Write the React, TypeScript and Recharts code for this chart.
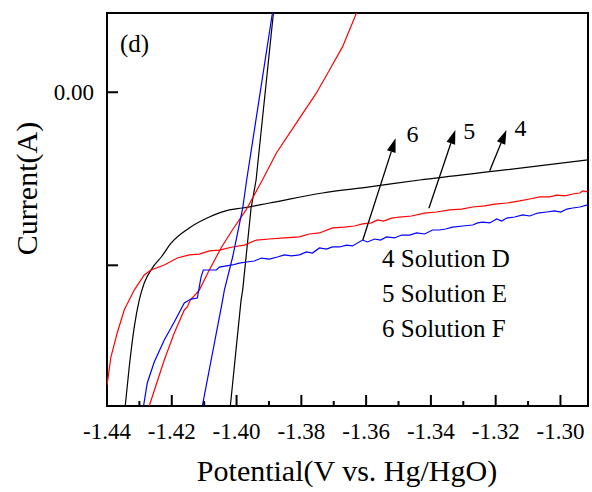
import React from "react";
import { LineChart, Line, XAxis, YAxis, ReferenceLine, ReferenceArea } from "recharts";

// ---- axes ----
const xTicks = [-1.44, -1.43, -1.42, -1.41, -1.4, -1.39, -1.38, -1.37, -1.36, -1.35, -1.34, -1.33, -1.32, -1.31, -1.3];
const yTicks = [-0.01, 0];
const xDomain = [-1.44, -1.2915];
const yDomain = [-0.01813, 0.00458];

// ---- curve 4 (Solution D, black) ----
const c4Forward = [
  { x: -1.43437, y: -0.01813 }, { x: -1.43314, y: -0.01588 }, { x: -1.43159, y: -0.01357 },
  { x: -1.43005, y: -0.01201 }, { x: -1.4285, y: -0.01102 }, { x: -1.42603, y: -0.01016 },
  { x: -1.42325, y: -0.00952 }, { x: -1.42015, y: -0.00871 }, { x: -1.41459, y: -0.00784 },
  { x: -1.40841, y: -0.00721 }, { x: -1.40223, y: -0.0068 }, { x: -1.39821, y: -0.00669 },
  { x: -1.38986, y: -0.0064 }, { x: -1.37348, y: -0.00582 }, { x: -1.35895, y: -0.00547 },
  { x: -1.34349, y: -0.00507 }, { x: -1.31722, y: -0.00449 }, { x: -1.29156, y: -0.00391 },
];
const c4Reverse = [
  { x: -1.38862, y: 0.00458 }, { x: -1.39397, y: -0.00507 }, { x: -1.39552, y: -0.00669 },
  { x: -1.39811, y: -0.01143 }, { x: -1.39861, y: -0.01201 }, { x: -1.40192, y: -0.01813 },
];

// ---- curve 5 (Solution E, red) ----
const c5Forward = [
  { x: -1.44, y: -0.01692 }, { x: -1.43879, y: -0.0153 }, { x: -1.43685, y: -0.01391 },
  { x: -1.43468, y: -0.01258 }, { x: -1.43314, y: -0.01201 }, { x: -1.43159, y: -0.01143 },
  { x: -1.4285, y: -0.01056 }, { x: -1.42643, y: -0.01027 }, { x: -1.42232, y: -0.00998 },
  { x: -1.4183, y: -0.00958 }, { x: -1.41459, y: -0.0094 }, { x: -1.4115, y: -0.00935 },
  { x: -1.40841, y: -0.00917 }, { x: -1.40532, y: -0.00912 }, { x: -1.4013, y: -0.00894 },
  { x: -1.39759, y: -0.00883 }, { x: -1.39388, y: -0.00854 }, { x: -1.38986, y: -0.00848 },
  { x: -1.38522, y: -0.00842 }, { x: -1.38059, y: -0.00836 }, { x: -1.3775, y: -0.00819 },
  { x: -1.3744, y: -0.00813 }, { x: -1.37039, y: -0.00784 }, { x: -1.36668, y: -0.00779 },
  { x: -1.36359, y: -0.00773 }, { x: -1.36111, y: -0.00761 }, { x: -1.35833, y: -0.00755 },
  { x: -1.35648, y: -0.00738 }, { x: -1.35462, y: -0.00744 }, { x: -1.35215, y: -0.00727 },
  { x: -1.34968, y: -0.00721 }, { x: -1.34597, y: -0.00715 }, { x: -1.34195, y: -0.00698 },
  { x: -1.33824, y: -0.00692 }, { x: -1.33422, y: -0.0068 }, { x: -1.33051, y: -0.00675 },
  { x: -1.32711, y: -0.00663 }, { x: -1.3234, y: -0.00657 }, { x: -1.32031, y: -0.00646 },
  { x: -1.3166, y: -0.0064 }, { x: -1.31258, y: -0.00628 }, { x: -1.30949, y: -0.00617 },
  { x: -1.3064, y: -0.00605 }, { x: -1.30331, y: -0.00605 }, { x: -1.30114, y: -0.00594 },
  { x: -1.29867, y: -0.00599 }, { x: -1.2962, y: -0.00588 }, { x: -1.29403, y: -0.00582 },
  { x: -1.29311, y: -0.0057 }, { x: -1.29156, y: -0.00576 },
];
const c5Reverse = [
  { x: -1.42696, y: -0.01813 }, { x: -1.42232, y: -0.01547 }, { x: -1.41923, y: -0.01391 },
  { x: -1.41614, y: -0.01258 }, { x: -1.41521, y: -0.01241 }, { x: -1.41428, y: -0.01201 },
  { x: -1.4115, y: -0.01143 }, { x: -1.40841, y: -0.01027 }, { x: -1.40479, y: -0.009 },
  { x: -1.4013, y: -0.00796 }, { x: -1.39706, y: -0.0068 }, { x: -1.39202, y: -0.00507 },
  { x: -1.3877, y: -0.00351 }, { x: -1.38151, y: -0.00177 }, { x: -1.37533, y: -0.00004 },
  { x: -1.37131, y: 0.00129 }, { x: -1.3673, y: 0.00262 }, { x: -1.36297, y: 0.00458 },
];

// ---- curve 6 (Solution F, blue) ----
const c6Forward = [
  { x: -1.42872, y: -0.01813 }, { x: -1.42757, y: -0.0168 }, { x: -1.42541, y: -0.01559 },
  { x: -1.42232, y: -0.01432 }, { x: -1.41923, y: -0.01328 }, { x: -1.41614, y: -0.01218 },
  { x: -1.41406, y: -0.01195 }, { x: -1.41212, y: -0.01189 }, { x: -1.41097, y: -0.01068 },
  { x: -1.41026, y: -0.01027 }, { x: -1.40624, y: -0.01027 }, { x: -1.40532, y: -0.0101 },
  { x: -1.4013, y: -0.00998 }, { x: -1.39913, y: -0.00987 }, { x: -1.39697, y: -0.00981 },
  { x: -1.3945, y: -0.00975 }, { x: -1.39233, y: -0.00958 }, { x: -1.38986, y: -0.00964 },
  { x: -1.38739, y: -0.00952 }, { x: -1.38522, y: -0.0094 }, { x: -1.38306, y: -0.00946 },
  { x: -1.38059, y: -0.0094 }, { x: -1.37842, y: -0.00923 }, { x: -1.37657, y: -0.00929 },
  { x: -1.3744, y: -0.009 }, { x: -1.37224, y: -0.00906 }, { x: -1.37039, y: -0.00894 },
  { x: -1.36822, y: -0.00894 }, { x: -1.36606, y: -0.00883 }, { x: -1.3642, y: -0.00888 },
  { x: -1.36111, y: -0.00854 }, { x: -1.35957, y: -0.00865 }, { x: -1.3574, y: -0.00848 },
  { x: -1.35555, y: -0.00854 }, { x: -1.35369, y: -0.00836 }, { x: -1.35122, y: -0.00842 },
  { x: -1.34906, y: -0.00825 }, { x: -1.34658, y: -0.00825 }, { x: -1.34442, y: -0.00813 },
  { x: -1.34195, y: -0.00819 }, { x: -1.33947, y: -0.00796 }, { x: -1.33731, y: -0.00796 },
  { x: -1.33546, y: -0.0079 }, { x: -1.33329, y: -0.00779 }, { x: -1.3302, y: -0.00773 },
  { x: -1.32711, y: -0.00767 }, { x: -1.32556, y: -0.00755 }, { x: -1.32402, y: -0.0075 },
  { x: -1.32185, y: -0.00755 }, { x: -1.31969, y: -0.00732 }, { x: -1.31814, y: -0.00744 },
  { x: -1.3166, y: -0.00727 }, { x: -1.31413, y: -0.00721 }, { x: -1.31165, y: -0.00709 },
  { x: -1.30949, y: -0.00715 }, { x: -1.30702, y: -0.00698 }, { x: -1.30424, y: -0.00692 },
  { x: -1.30176, y: -0.00686 }, { x: -1.29991, y: -0.00692 }, { x: -1.29805, y: -0.00675 },
  { x: -1.2962, y: -0.00669 }, { x: -1.29403, y: -0.00663 }, { x: -1.29156, y: -0.00651 },
];
const c6Reverse = [
  { x: -1.38893, y: 0.00458 }, { x: -1.39688, y: -0.00507 }, { x: -1.39811, y: -0.00669 },
  { x: -1.40121, y: -0.00952 }, { x: -1.40377, y: -0.01143 }, { x: -1.4043, y: -0.01201 },
  { x: -1.41057, y: -0.01813 },
];

// ---- arrows (tail -> tip) and their labels ----
const arrowLabels = ["6", "5", "4"];
const arrowTails = [
  { x: -1.36102, y: -0.00854 },
  { x: -1.34062, y: -0.0067 },
  { x: -1.32185, y: -0.00453 },
];
const arrowTips = [
  { x: -1.35091, y: -0.00266 },
  { x: -1.33246, y: -0.00218 },
  { x: -1.31669, y: -0.00218 },
];
const arrowLabelOffsets = [
  { dx: 17, dy: 4 },
  { dx: 14, dy: 9 },
  { dx: 14, dy: 6 },
];

const legendLines = ["4 Solution D", "5 Solution E", "6 Solution F"];

const FONT = "'Liberation Serif', 'Times New Roman', Times, serif";

const XTick = (props: any) => {
  const { x, y, payload } = props;
  const major = Math.abs(Math.round(payload.value * 100)) % 2 === 0;
  return (
    <g>
      <line x1={x} y1={y} x2={x} y2={y - (major ? 11 : 5)} stroke="#000" strokeWidth={2} />
      {major && (
        <text x={x} y={y + 33} textAnchor="middle" fontSize={23} fill="#000" fontFamily={FONT}>
          {payload.value.toFixed(2)}
        </text>
      )}
    </g>
  );
};

const YTick = (props: any) => {
  const { x, y, payload } = props;
  return (
    <g>
      <line x1={x} y1={y} x2={x + 11} y2={y} stroke="#000" strokeWidth={2} />
      {payload.value === 0 && (
        <text x={x - 13} y={y + 8} textAnchor="end" fontSize={23} fill="#000" fontFamily={FONT}>
          0.00
        </text>
      )}
    </g>
  );
};

const makeArrow = (i: number) => (p: any) => {
  const { x1, y1, x2, y2 } = p;
  const dx = x2 - x1;
  const dy = y2 - y1;
  const len = Math.hypot(dx, dy) || 1;
  const ux = dx / len;
  const uy = dy / len;
  const hl = 14;
  const hw = 4.5;
  const bx = x2 - ux * hl;
  const by = y2 - uy * hl;
  const px = -uy;
  const py = ux;
  return (
    <g>
      <line x1={x1} y1={y1} x2={bx} y2={by} stroke="#000" strokeWidth={1.3} />
      <polygon
        points={`${x2},${y2} ${bx + px * hw},${by + py * hw} ${bx - px * hw},${by - py * hw}`}
        fill="#000"
      />
      <text
        x={x2 + arrowLabelOffsets[i].dx}
        y={y2 + arrowLabelOffsets[i].dy}
        textAnchor="middle"
        fontSize={24}
        fill="#000"
        fontFamily={FONT}
      >
        {arrowLabels[i]}
      </text>
    </g>
  );
};

export default function App() {
  const series = [
    { data: c4Forward, color: "#000000", key: "c4f", curve: "monotone" },
    { data: c4Reverse, color: "#000000", key: "c4r", curve: "linear" },
    { data: c5Forward, color: "#ff0000", key: "c5f", curve: "linear" },
    { data: c5Reverse, color: "#ff0000", key: "c5r", curve: "linear" },
    { data: c6Forward, color: "#0000ff", key: "c6f", curve: "linear" },
    { data: c6Reverse, color: "#0000ff", key: "c6r", curve: "linear" },
  ];
  return (
    <div style={{ position: "absolute", left: 0, top: 0, width: 592, height: 492, background: "#fff", fontFamily: FONT }}>
      <LineChart width={592} height={492} margin={{ top: 13, right: 4, bottom: 56, left: 47 }}>
        <XAxis
          dataKey="x"
          type="number"
          domain={xDomain}
          allowDataOverflow
          ticks={xTicks}
          interval={0}
          tickSize={0}
          tickMargin={0}
          tickLine={false}
          axisLine={false}
          height={30}
          tick={<XTick />}
        />
        <YAxis
          dataKey="y"
          type="number"
          domain={yDomain}
          allowDataOverflow
          ticks={yTicks}
          interval={0}
          tickSize={0}
          tickMargin={0}
          tickLine={false}
          axisLine={false}
          width={60}
          tick={<YTick />}
        />
        <ReferenceArea
          x1={xDomain[0]}
          x2={xDomain[1]}
          y1={yDomain[0]}
          y2={yDomain[1]}
          fill="none"
          fillOpacity={0}
          stroke="#000"
          strokeWidth={2}
        />
        {series.map((s) => (
          <Line
            key={s.key}
            data={s.data}
            dataKey="y"
            type={s.curve as any}
            stroke={s.color}
            strokeWidth={1.2}
            dot={false}
            activeDot={false}
            isAnimationActive={false}
          />
        ))}
        {arrowTails.map((t, i) => (
          <ReferenceLine
            key={"arrow" + i}
            segment={[t, arrowTips[i]]}
            stroke="#000"
            shape={makeArrow(i)}
          />
        ))}
        <text x={120} y={52} fontSize={25} fill="#000" fontFamily={FONT}>(d)</text>
        {legendLines.map((t, i) => (
          <text key={t} x={382} y={266.5 + i * 35.3} fontSize={25} fill="#000" fontFamily={FONT}>
            {t}
          </text>
        ))}
        <text x={347} y={481} textAnchor="middle" fontSize={30} fill="#000" fontFamily={FONT}>
          Potential(V vs. Hg/HgO)
        </text>
        <text
          x={37}
          y={188.5}
          textAnchor="middle"
          fontSize={30}
          fill="#000"
          fontFamily={FONT}
          transform="rotate(-90, 37, 188.5)"
        >
          Current(A)
        </text>
      </LineChart>
    </div>
  );
}
